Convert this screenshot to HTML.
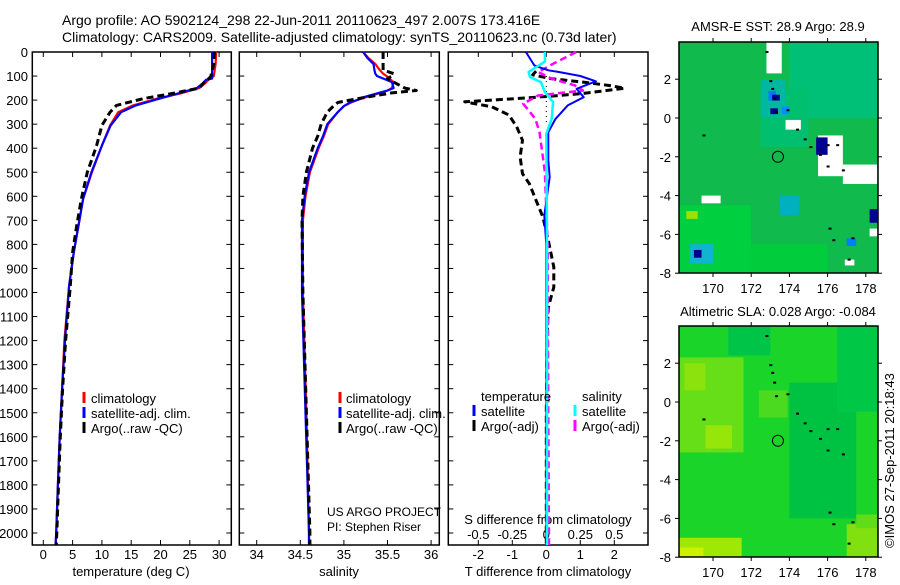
<!DOCTYPE html>
<html><head><meta charset="utf-8"><style>
html,body{margin:0;padding:0;background:#fff;}
svg text{font-family:"Liberation Sans",sans-serif;fill:#000;}
</style></head><body>
<svg id="c" width="900" height="580" xmlns="http://www.w3.org/2000/svg">
<text x="62" y="25" font-size="14">Argo profile: AO 5902124_298 22-Jun-2011 20110623_497 2.007S 173.416E</text>
<text x="62" y="42" font-size="14">Climatology: CARS2009. Satellite-adjusted climatology: synTS_20110623.nc (0.73d later)</text>
<text x="778" y="31" font-size="13" text-anchor="middle">AMSR-E SST: 28.9 Argo: 28.9</text>
<text x="778" y="316" font-size="13" text-anchor="middle">Altimetric SLA: 0.028 Argo: -0.084</text>
<text transform="translate(894,548) rotate(-90)" font-size="13">©IMOS 27-Sep-2011 20:18:43</text>
<text x="327" y="516" font-size="12">US ARGO PROJECT</text>
<text x="327" y="531" font-size="12">PI: Stephen Riser</text>
</svg>
<script>
// ---- data ----
const depthT = [0,50,100,110,115,130,150,172,194,222,250,305,389,500,611,722,833,972,1200,1400,1600,1800,2000,2050];
const tempClim = [29.5,29.4,29.1,28.6,28.2,27.6,26.6,23.4,19.4,15.3,12.8,11.4,10.0,8.3,6.8,6.0,5.2,4.4,3.6,3.2,2.8,2.5,2.2,2.1];
const tempSat = [28.8,28.8,28.8,28.8,27.8,27.2,26.2,23.0,19.8,15.8,13.3,11.5,10.0,8.2,6.8,6.0,5.2,4.4,3.7,3.2,2.8,2.5,2.2,2.1];
const tempArgo = [29.2,29.1,28.6,28.3,27.9,27.3,26.6,22.1,17.0,12.5,11.4,10.0,9.1,7.5,6.5,5.7,5.0,4.6,3.8,3.3,2.9,2.6,2.3,2.2];
const depthS = [0,25,50,75,90,100,110,125,150,160,170,185,200,210,225,250,300,350,400,500,600,700,1000,1500,2000,2050];
const salClim = [35.22,35.28,35.36,35.41,35.45,35.49,35.52,35.57,35.55,35.5,35.42,35.28,35.15,35.08,35.0,34.93,34.82,34.77,34.71,34.61,34.56,34.53,34.53,34.57,34.6,34.6];
const salSat = [35.22,35.27,35.34,35.35,35.36,35.38,35.45,35.55,35.57,35.5,35.4,35.25,35.15,35.07,35.0,34.93,34.81,34.76,34.70,34.6,34.55,34.52,34.52,34.56,34.6,34.6];
const salArgo = [35.45,35.45,35.45,35.45,35.57,35.55,35.5,35.57,35.7,35.83,35.55,35.3,35.07,34.93,34.88,34.81,34.74,34.70,34.64,34.57,34.53,34.52,34.53,34.57,34.61,34.61];
const depthDTArgo = [80,95,110,124,140,151,163,172,183,193,207,228,262,311,367,436,506,547,617,686,783,894,978,1061,1200,1500,2000,2050];
const dTArgo = [-0.3,-0.4,0.1,1.0,1.9,2.3,1.6,1.1,0.2,-0.8,-2.4,-1.6,-1.1,-0.87,-0.7,-0.77,-0.7,-0.5,-0.3,-0.1,0.06,0.22,0.22,0.06,0.02,0.0,0.0,0.0];
const depthDTSat = [0,56,76,83,100,122,153,188,222,278,333,450,520,680,800,1200,2050];
const dTSat = [-0.6,-0.35,0.06,0.37,1.0,1.46,0.89,1.1,0.63,0.27,0.06,0.06,0.1,-0.06,0,0,0];
const depthDSSat = [0,40,83,104,125,167,208,278,340,800,2050];
const dSSat = [-0.01,-0.01,-0.13,-0.12,-0.04,-0.01,0.05,0.04,0,0.005,0.005];
const depthDSArgo = [0,49,83,111,139,160,181,215,278,333,500,800,1500,2050];
const dSArgo = [0.22,0.05,-0.06,0.04,0.21,0.27,-0.06,-0.17,-0.08,-0.05,-0.01,0.01,0.015,0.02];
const depthTicks = [0,100,200,300,400,500,600,700,800,900,1000,1100,1200,1300,1400,1500,1600,1700,1800,1900,2000];
const tempTicks = [0,5,10,15,20,25,30];
const salTicks = [34,34.5,35,35.5,36];
const dTTicks = [-2,-1,0,1,2];
const dSTicks = [-0.5,-0.25,0,0.25,0.5];
const lonTicks = [170,172,174,176,178];
const latTicks = [2,0,-2,-4,-6,-8];
const argoLon = [173.4];
const argoLat = [-2.0];

const svg = document.getElementById('c');
const NS = 'http://www.w3.org/2000/svg';
function mk(tag, attrs, parent){const e=document.createElementNS(NS,tag);for(const k in attrs)e.setAttribute(k,attrs[k]);(parent||svg).appendChild(e);return e;}

const TOP=52, BOT=545;
const yD = d => TOP + d*0.2405;
const xT = t => 43.3 + t*5.86;
const xS = s => 256.7 + (s-34)*87.2;
const xDT = v => 546.3 + v*34;
const xDS = v => 546.3 + v*136;

function frame(x0,x1,name){
  const r = mk('rect',{x:x0,y:TOP,width:x1-x0,height:BOT-TOP,fill:'none',stroke:'#000','stroke-width':1.5});
  
  
  depthTicks.forEach(d=>{
    mk('line',{x1:x0,x2:x0+5,y1:yD(d),y2:yD(d),stroke:'#000'});
    mk('line',{x1:x1-5,x2:x1,y1:yD(d),y2:yD(d),stroke:'#000'});
  });
}
function xticks(vals,fx,name,ylab){
  vals.forEach(v=>{
    mk('line',{x1:fx(v),x2:fx(v),y1:BOT,y2:BOT-5,stroke:'#000'});
    mk('line',{x1:fx(v),x2:fx(v),y1:TOP,y2:TOP+5,stroke:'#000'});
    const t = mk('text',{x:fx(v),y:ylab,'font-size':13,'text-anchor':'middle'});
    t.textContent = String(v);
    
    
  });
}
function line(ds,vs,fx,color,dash,w,name){
  const pts = ds.map((d,i)=>fx(vs[i]).toFixed(1)+','+yD(d).toFixed(1)).join(' ');
  const p = mk('polyline',{points:pts,fill:'none',stroke:color,'stroke-width':w||2.5,'stroke-linejoin':'round'});
  if(dash) p.setAttribute('stroke-dasharray',dash);
  
  
}
function txt(x,y,s,name,size,anchor){
  const t = mk('text',{x:x,y:y,'font-size':size||13,'text-anchor':anchor||'start'});
  t.textContent = s;
  
  
}
function marker(x,y,color,name){
  const l = mk('line',{x1:x,x2:x,y1:y-11,y2:y,stroke:color,'stroke-width':3});
  
  
}

frame(32.3,231.3,'temperature-panel');
depthTicks.forEach(d=>{
  const t = mk('text',{x:28,y:yD(d)+5,'font-size':13,'text-anchor':'end'});
  t.textContent = String(d);
  
  
});
xticks(tempTicks,xT,'temperature-tick-label',559);
txt(131,576,'temperature (deg C)','temperature-axis-title',13,'middle');
line(depthT,tempClim,xT,'#ff0000',null,2.2,'temperature-climatology-line');
line(depthT,tempSat,xT,'#0000ff',null,2.2,'temperature-satellite-line');
line(depthT,tempArgo,xT,'#000',"7,4",3,'temperature-argo-line');
marker(84,403,'#ff0000','legend-climatology-marker'); txt(91,403,'climatology','legend-climatology');
marker(84,418,'#0000ff','legend-satellite-marker'); txt(91,418,'satellite-adj. clim.','legend-satellite');
marker(84,433,'#000','legend-argo-marker'); txt(91,433,'Argo(..raw -QC)','legend-argo');

frame(239.3,439.3,'salinity-panel');
xticks(salTicks,xS,'salinity-tick-label',559);
txt(339,576,'salinity','salinity-axis-title',13,'middle');
line(depthS,salClim,xS,'#ff0000',null,2.2,'salinity-climatology-line');
line(depthS,salSat,xS,'#0000ff',null,2.2,'salinity-satellite-line');
line(depthS,salArgo,xS,'#000',"7,4",3,'salinity-argo-line');
marker(340,403,'#ff0000','legend2-climatology-marker'); txt(346,403,'climatology','legend2-climatology');
marker(340,418,'#0000ff','legend2-satellite-marker'); txt(346,418,'satellite-adj. clim.','legend2-satellite');
marker(340,433,'#000','legend2-argo-marker'); txt(346,433,'Argo(..raw -QC)','legend2-argo');

frame(448.3,648,'difference-panel');
dTTicks.forEach(v=>{
  mk('line',{x1:xDT(v),x2:xDT(v),y1:BOT,y2:BOT-5,stroke:'#000'});
  mk('line',{x1:xDT(v),x2:xDT(v),y1:TOP,y2:TOP+5,stroke:'#000'});
  const t = mk('text',{x:xDT(v),y:559,'font-size':13,'text-anchor':'middle'});
  t.textContent = String(v);
  
  
});
dSTicks.forEach(v=>{
  const t = mk('text',{x:xDS(v),y:539,'font-size':13,'text-anchor':'middle'});
  t.textContent = String(v);
  
  
});
txt(548,524,'S difference from climatology','s-diff-axis-title',13,'middle');
txt(548,576,'T difference from climatology','t-diff-axis-title',13,'middle');
mk('line',{x1:xDT(0),x2:xDT(0),y1:yD(100),y2:yD(300),stroke:'#000','stroke-dasharray':'1,4'});
line(depthDTArgo,dTArgo,xDT,'#000',"7,4",3,'t-diff-argo-line');
line(depthDSArgo,dSArgo,xDS,'#ff00ff',"7,4",2.5,'s-diff-argo-line');
line(depthDTSat,dTSat,xDT,'#0000ff',null,2,'t-diff-satellite-line');
line(depthDSSat,dSSat,xDS,'#00ffff',null,2.5,'s-diff-satellite-line');
txt(481,401,'temperature','legend3-temperature-header');
txt(582,401,'salinity','legend3-salinity-header');
marker(474,416,'#0000ff','legend3-t-satellite-marker'); txt(481,416,'satellite','legend3-t-satellite');
marker(474,431,'#000','legend3-t-argo-marker'); txt(481,431,'Argo(-adj)','legend3-t-argo');
marker(575,416,'#00ffff','legend3-s-satellite-marker'); txt(582,416,'satellite','legend3-s-satellite');
marker(575,431,'#ff00ff','legend3-s-argo-marker'); txt(582,431,'Argo(-adj)','legend3-s-argo');

const lonX = lon => 713 + (lon-170)*19.1;
const sstY = lat => 118 - lat*19.4;
const slaY = lat => 402 - lat*19.4;
const sstPatchBox = [[174,0,178.6,3.9],[172.5,-1.5,175,1.5],[168.2,-8,172,-4.5],[172,-8,176,-6.5],[173.5,-5,174.5,-4],[168.8,-7.5,170,-6.5],[172.5,0,173.8,2],[172.9,0.9,173.3,1.4],[173.6,0.2,174,0.6],[172.8,2.3,173.6,3.9],[173.8,-0.6,174.6,-0.1],[175.5,-3.0,176.8,-0.9],[176.8,-3.4,178.6,-2.4],[169.4,-4.4,170.4,-4.0],[175.4,-1.9,176.0,-1.0],[173.1,0.9,173.5,1.2],[173.0,0.2,173.4,0.5],[169.0,-7.2,169.4,-6.8],[178.2,-5.4,178.6,-4.7],[178.2,-6.1,178.6,-5.7],[176.9,-7.6,177.4,-7.3],[168.6,-5.2,169.2,-4.8],[177,-6.6,177.5,-6.2]];
const sstPatchColor = ['#00c078','#00c070','#00d040','#00cc3c','#00b0c0','#10b4d0','#00b8a0','#0078ff','#0090ff','#ffffff','#ffffff','#ffffff','#ffffff','#ffffff','#000090','#000090','#000090','#000090','#000090','#ffffff','#ffffff','#a0e000','#0080ff'];
const slaPatchBox = [[168.2,-2.6,171.6,2.3],[169.6,-2.4,171.0,-1.2],[168.5,0.6,169.6,2.0],[172.4,-0.8,173.9,0.6],[174,-6,177.5,1.0],[170.8,2.4,173,3.9],[176.5,-0.5,178.6,3.9],[168.2,-8,171.5,-7.0],[168.2,-8,169.5,-7.5],[177,-8,178.6,-6.3],[177.5,-6.5,178.6,-5.8]];
const slaPatchColor = ['#66de18','#96e60a','#8ce20c','#4cda20','#00c242','#00c448','#00c846','#9ee804','#ccf000','#80e010','#60dc18'];
const islandLon = [172.8,173.0,173.1,173.2,173.3,173.9,174.4,174.8,175.1,175.6,176.0,176.5,176.0,176.8,169.5,176.1,176.3,177.3,177.1];
const islandLat = [3.4,1.9,1.5,1.0,0.3,0.4,-0.6,-1.1,-1.5,-1.9,-1.4,-1.4,-2.5,-2.7,-0.9,-5.7,-6.3,-6.2,-7.3];

function drawMap(fy,y0,y1,boxes,colors,base,name){
  const g = mk('g',{});
  
  
  const x0=679,x1=878;
  mk('rect',{x:x0,y:y0,width:x1-x0,height:y1-y0,fill:base},g);
  boxes.forEach((b,i)=>{
    const xa=Math.max(x0,lonX(b[0])), xb=Math.min(x1,lonX(b[2]));
    const ya=Math.max(y0,fy(b[3])), yb=Math.min(y1,fy(b[1]));
    const r = mk('rect',{x:xa,y:ya,width:xb-xa,height:yb-ya,fill:colors[i]},g);
    
    
  });
  islandLon.forEach((lon,i)=>{
    mk('rect',{x:lonX(lon)-1,y:fy(islandLat[i])-1,width:3,height:2,fill:'#000'},g);
  });
  const c = mk('circle',{cx:lonX(argoLon[0]),cy:fy(argoLat[0]),r:5.5,fill:'none',stroke:'#000','stroke-width':1},g);
  
  
  mk('rect',{x:x0,y:y0,width:x1-x0,height:y1-y0,fill:'none',stroke:'#000','stroke-width':1.5},g);
  lonTicks.forEach(l=>{
    mk('line',{x1:lonX(l),x2:lonX(l),y1:y1,y2:y1+4,stroke:'#000'},g);
    mk('line',{x1:lonX(l),x2:lonX(l),y1:y0,y2:y0-4,stroke:'#000'},g);
    const t = mk('text',{x:lonX(l),y:y1+20,'font-size':13,'text-anchor':'middle'},g);
    t.textContent = String(l);
    
    
  });
  latTicks.forEach(l=>{
    mk('line',{x1:x0-4,x2:x0,y1:fy(l),y2:fy(l),stroke:'#000'},g);
    mk('line',{x1:x1,x2:x1+4,y1:fy(l),y2:fy(l),stroke:'#000'},g);
    const t = mk('text',{x:x0-8,y:fy(l)+5,'font-size':13,'text-anchor':'end'},g);
    t.textContent = String(l);
    
    
  });
}
drawMap(sstY,42,273,sstPatchBox,sstPatchColor,'#10ba4c','sst-map');
drawMap(slaY,326,557,slaPatchBox,slaPatchColor,'#1ad42a','sla-map');
</script>
</body></html>
